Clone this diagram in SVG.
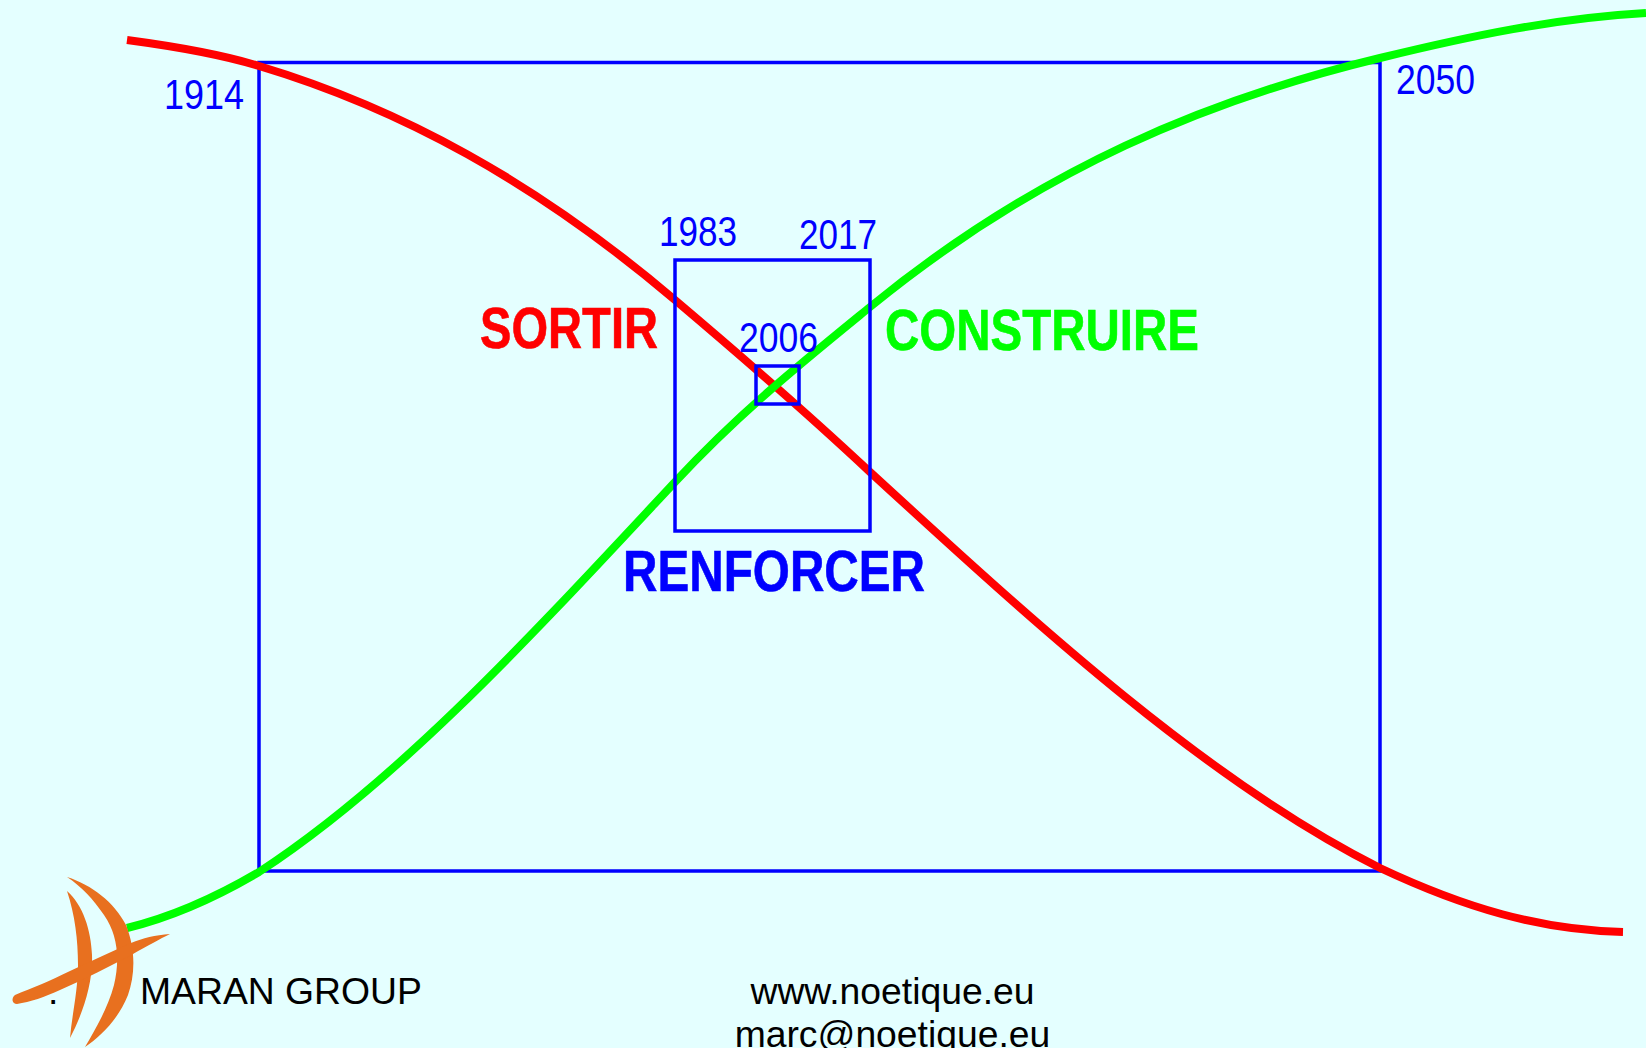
<svg xmlns="http://www.w3.org/2000/svg" width="1646" height="1048" viewBox="0 0 1646 1048">
<style>
.box{fill:none;stroke:#0000ff;stroke-width:3.500}
.curve{fill:none;stroke-width:8}
.year{font-family:"Liberation Sans",Arial,sans-serif;font-size:43px;fill:#0000ff}
.big{font-family:"Liberation Sans",Arial,sans-serif;font-size:57px;font-weight:bold;stroke-width:.6}
.foot{font-family:"Liberation Sans",Arial,sans-serif;font-size:37.300px;fill:#000}
.logo{fill:#e8701f}
</style>
<rect width="1646" height="1048" fill="#e4ffff"/>
<g id="box-outer"><rect class="box" x="259" y="62.500" width="1121" height="808.500"/></g>
<g id="connectors">
<path id="curve-red" class="curve" stroke="#ff0000" d="M127,40 C172,46 220,54 259,66 C399,108 535,181 675,300 C740,355 805,411 870,472 C1040,628 1210,783 1380,868 C1465,908 1540,930 1623,932"/>
<path id="curve-green" class="curve" stroke="#00ff00" d="M127,928 C172,917 220,895 259,872 C399,781 535,632 675,482 C740,412 805,360 870,307 C1040,168 1210,99 1380,58 C1470,36 1556,18 1646,13"/>
</g>
<g id="box-middle"><rect class="box" x="675" y="260" width="195" height="271"/></g>
<g id="box-inner"><rect class="box" x="756" y="366" width="43" height="38"/></g>
<g id="label-1914"><text class="year" x="164" y="108.500" textLength="80" lengthAdjust="spacingAndGlyphs">1914</text></g>
<g id="label-2050"><text class="year" x="1396" y="93.500" textLength="79" lengthAdjust="spacingAndGlyphs">2050</text></g>
<g id="label-1983"><text class="year" x="659" y="245.500" textLength="78" lengthAdjust="spacingAndGlyphs">1983</text></g>
<g id="label-2017"><text class="year" x="799" y="248.500" textLength="78" lengthAdjust="spacingAndGlyphs">2017</text></g>
<g id="label-2006"><text class="year" x="739" y="352" textLength="79" lengthAdjust="spacingAndGlyphs">2006</text></g>
<g id="label-sortir"><text class="big" fill="#ff0000" stroke="#ff0000" x="480" y="348" textLength="178" lengthAdjust="spacingAndGlyphs">SORTIR</text></g>
<g id="label-construire"><text class="big" fill="#00ff00" stroke="#00ff00" x="885" y="350" textLength="314" lengthAdjust="spacingAndGlyphs">CONSTRUIRE</text></g>
<g id="label-renforcer"><text class="big" fill="#0000ff" stroke="#0000ff" x="623" y="591" textLength="302" lengthAdjust="spacingAndGlyphs">RENFORCER</text></g>
<g id="logo">
<path class="logo" d="M67,877 C92,885 114,902 126,925 C136,950 135,975 128,995 C118,1020 100,1037 85,1047 C95,1030 108,1008 114,985 C120,960 118,935 104,915 C93,899 82,887 67,877 Z"/>
<path class="logo" d="M67,891 C83,905 91,930 92,955 C93,985 82,1015 70,1038 C72,1015 78,990 78,965 C78,940 75,915 67,891 Z"/>
<path class="logo" d="M170,934 C155,935 143,938 131,943 C110,952 90,962 70,971 C50,981 32,988 15,995 C11,998 12,1004 17,1004 C30,1002 45,997 60,990 C85,979 110,966 133,954 C147,946 160,939 170,934 Z"/>
</g>
<g id="footer">
<text class="foot" x="48" y="1004">.</text>
<text class="foot" x="140" y="1004">MARAN GROUP</text>
<text class="foot" x="892.500" y="1004" text-anchor="middle">www.noetique.eu</text>
<text class="foot" x="892.500" y="1047" text-anchor="middle">marc@noetique.eu</text>
</g>
</svg>
